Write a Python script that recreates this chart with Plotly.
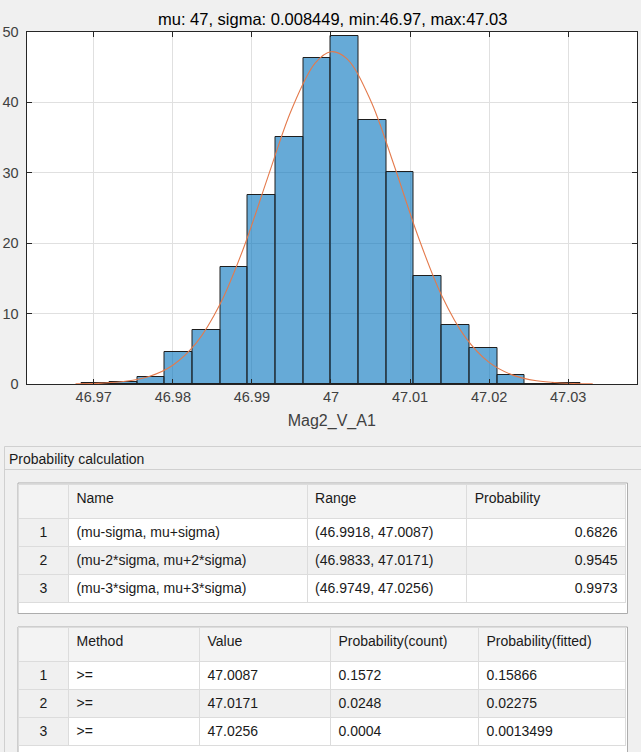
import plotly.graph_objects as go

# histogram bins (left edges) and normalized heights (pdf)
bin_width = 0.0035
bin_edges = [46.9685, 46.972, 46.9755, 46.979, 46.9825, 46.986, 46.9895, 46.993,
             46.9965, 47.0, 47.0035, 47.007, 47.0105, 47.014, 47.0175, 47.021,
             47.0245, 47.028]
density = [0.11, 0.25, 1.05, 4.57, 7.62, 16.57, 26.86, 35.05,
           46.24, 49.43, 37.43, 30.1, 15.29, 8.43, 5.05, 1.29,
           0.0, 0.11]

# fitted normal curve
fit_x = [46.9677, 46.971, 46.974, 46.977, 46.980, 46.983, 46.986, 46.989, 46.992,
         46.995, 46.998, 47.000, 47.002, 47.005, 47.008, 47.011, 47.014, 47.017,
         47.020, 47.023, 47.026, 47.029, 47.0331]
fit_y = [0.02, 0.12, 0.38, 1.07, 2.67, 5.87, 11.39, 19.46, 29.31,
         38.93, 45.58, 47.2, 46.22, 40.32, 31.0, 21.02, 12.56, 6.62,
         3.07, 1.26, 0.45, 0.15, 0.03]

x_ticks = [46.97, 46.98, 46.99, 47.0, 47.01, 47.02, 47.03]
x_tick_labels = ['46.97', '46.98', '46.99', '47', '47.01', '47.02', '47.03']

title_text = 'mu: 47, sigma: 0.008449, min:46.97, max:47.03'
x_label = 'Mag2_V_A1'
panel_title = 'Probability calculation'

# table 1
t1_header = ['', 'Name', 'Range', 'Probability']
t1_index = ['1', '2', '3']
t1_name = ['(mu-sigma, mu+sigma)', '(mu-2*sigma, mu+2*sigma)', '(mu-3*sigma, mu+3*sigma)']
t1_range = ['(46.9918, 47.0087)', '(46.9833, 47.0171)', '(46.9749, 47.0256)']
t1_prob = ['0.6826', '0.9545', '0.9973']

# table 2
t2_header = ['', 'Method', 'Value', 'Probability(count)', 'Probability(fitted)']
t2_index = ['1', '2', '3']
t2_method = ['>=', '>=', '>=']
t2_value = ['47.0087', '47.0171', '47.0256']
t2_count = ['0.1572', '0.0248', '0.0004']
t2_fitted = ['0.15866', '0.02275', '0.0013499']

W, H = 641, 752


def px(x):
    return x / W


def py(y):
    return 1 - y / H


FONT = 'Liberation Sans, Arial, sans-serif'
TXT = '#262626'

fig = go.Figure()

centers = [e + bin_width / 2 for e in bin_edges]
fig.add_trace(go.Bar(
    x=centers, y=density, width=bin_width,
    marker=dict(color='rgba(0,114,189,0.6)', line=dict(color='#1e1e1e', width=1)),
    showlegend=False, hoverinfo='skip'
))

fig.add_trace(go.Scatter(
    x=fit_x, y=fit_y, mode='lines', line=dict(color='#e47a4c', width=1.1, shape='spline'),
    showlegend=False, hoverinfo='skip'
))

# tables
cell_font = dict(family=FONT, size=14, color='#1a1a1a')
stripe = ['white', '#f0f0f0', 'white']
idx_fill = ['#f0f0f0'] * 3

fig.add_trace(go.Table(
    domain=dict(x=[px(18.5), px(626)], y=[py(613), py(484)]),
    columnwidth=[50, 239, 160, 159],
    header=dict(values=t1_header, height=34, fill_color='#f3f3f3',
                line_color='#dcdcdc', align='left', font=cell_font),
    cells=dict(values=[t1_index, t1_name, t1_range, t1_prob], height=28,
               fill_color=[idx_fill, stripe, stripe, stripe],
               line_color='#dcdcdc', align=['center', 'left', 'left', 'right'],
               font=cell_font)
))

# ">=" goes in as the column prefix so plotly draws it as plain text
# (a '>' inside a cell value triggers the markup pass, which makes the rows taller)
method_col = [''] * len(t2_method)
col_prefix = ['', t2_method[0], '', '', '']

fig.add_trace(go.Table(
    domain=dict(x=[px(18.5), px(626)], y=[py(752), py(627.5)]),
    columnwidth=[50, 131, 131, 148, 147],
    header=dict(values=t2_header, height=34, fill_color='#f3f3f3',
                line_color='#dcdcdc', align='left', font=cell_font),
    cells=dict(values=[t2_index, method_col, t2_value, t2_count, t2_fitted], height=28,
               prefix=col_prefix,
               fill_color=[idx_fill, stripe, stripe, stripe, stripe],
               line_color='#dcdcdc', align=['center', 'left', 'left', 'left', 'left'],
               font=cell_font)
))

shapes = [
    # panel
    dict(type='rect', xref='paper', yref='paper', x0=px(4.5), x1=px(660), y0=py(770), y1=py(446.5),
         line=dict(color='#d0d0d0', width=1), fillcolor='#f0f0f0', layer='below'),
    dict(type='line', xref='paper', yref='paper', x0=px(4.5), x1=px(660), y0=py(469.5), y1=py(469.5),
         line=dict(color='#d0d0d0', width=1), layer='below'),
    # table frames
    dict(type='rect', xref='paper', yref='paper', x0=px(18), x1=px(627.5), y0=py(613.5), y1=py(483),
         line=dict(color='#adadad', width=1), fillcolor='white', layer='below'),
    dict(type='rect', xref='paper', yref='paper', x0=px(18), x1=px(627.5), y0=py(770), y1=py(627),
         line=dict(color='#adadad', width=1), fillcolor='white', layer='below'),
]

annotations = [
    dict(text=title_text, x=px(332), y=py(19), xref='paper', yref='paper', showarrow=False,
         xanchor='center', yanchor='middle', font=dict(family=FONT, size=16.5, color='#000000')),
    dict(text=panel_title, x=px(7), y=py(459), xref='paper', yref='paper', showarrow=False,
         xanchor='left', yanchor='middle', font=dict(family=FONT, size=14, color='#1a1a1a')),
]

fig.update_layout(
    width=W, height=H,
    margin=dict(l=0, r=0, t=0, b=0, autoexpand=False),
    paper_bgcolor='#f0f0f0', plot_bgcolor='white',
    bargap=0, shapes=shapes, annotations=annotations,
    font=dict(family=FONT, color=TXT),
    xaxis=dict(domain=[px(26.5), px(637)], range=[46.9615, 47.0387],
               tickvals=x_ticks, ticktext=x_tick_labels,
               ticks='inside', ticklen=5, tickcolor=TXT,
               showline=True, linecolor=TXT, mirror='ticks',
               showgrid=True, gridcolor='#e0e0e0', zeroline=False, automargin=False,
               tickfont=dict(size=14.5, color='#404040'),
               title=dict(text=x_label, standoff=10, font=dict(size=16, color='#404040'))),
    yaxis=dict(domain=[py(384), py(32)], range=[0, 50], dtick=10,
               ticks='inside', ticklen=5, tickcolor=TXT,
               showline=True, linecolor=TXT, mirror='ticks',
               showgrid=True, gridcolor='#e0e0e0', zeroline=False, automargin=False,
               ticklabelstandoff=4,
               tickfont=dict(size=14.5, color='#404040')),
)

fig.write_html('out.html', config={'displayModeBar': False},
               post_script="document.body.style.margin='0px';")
